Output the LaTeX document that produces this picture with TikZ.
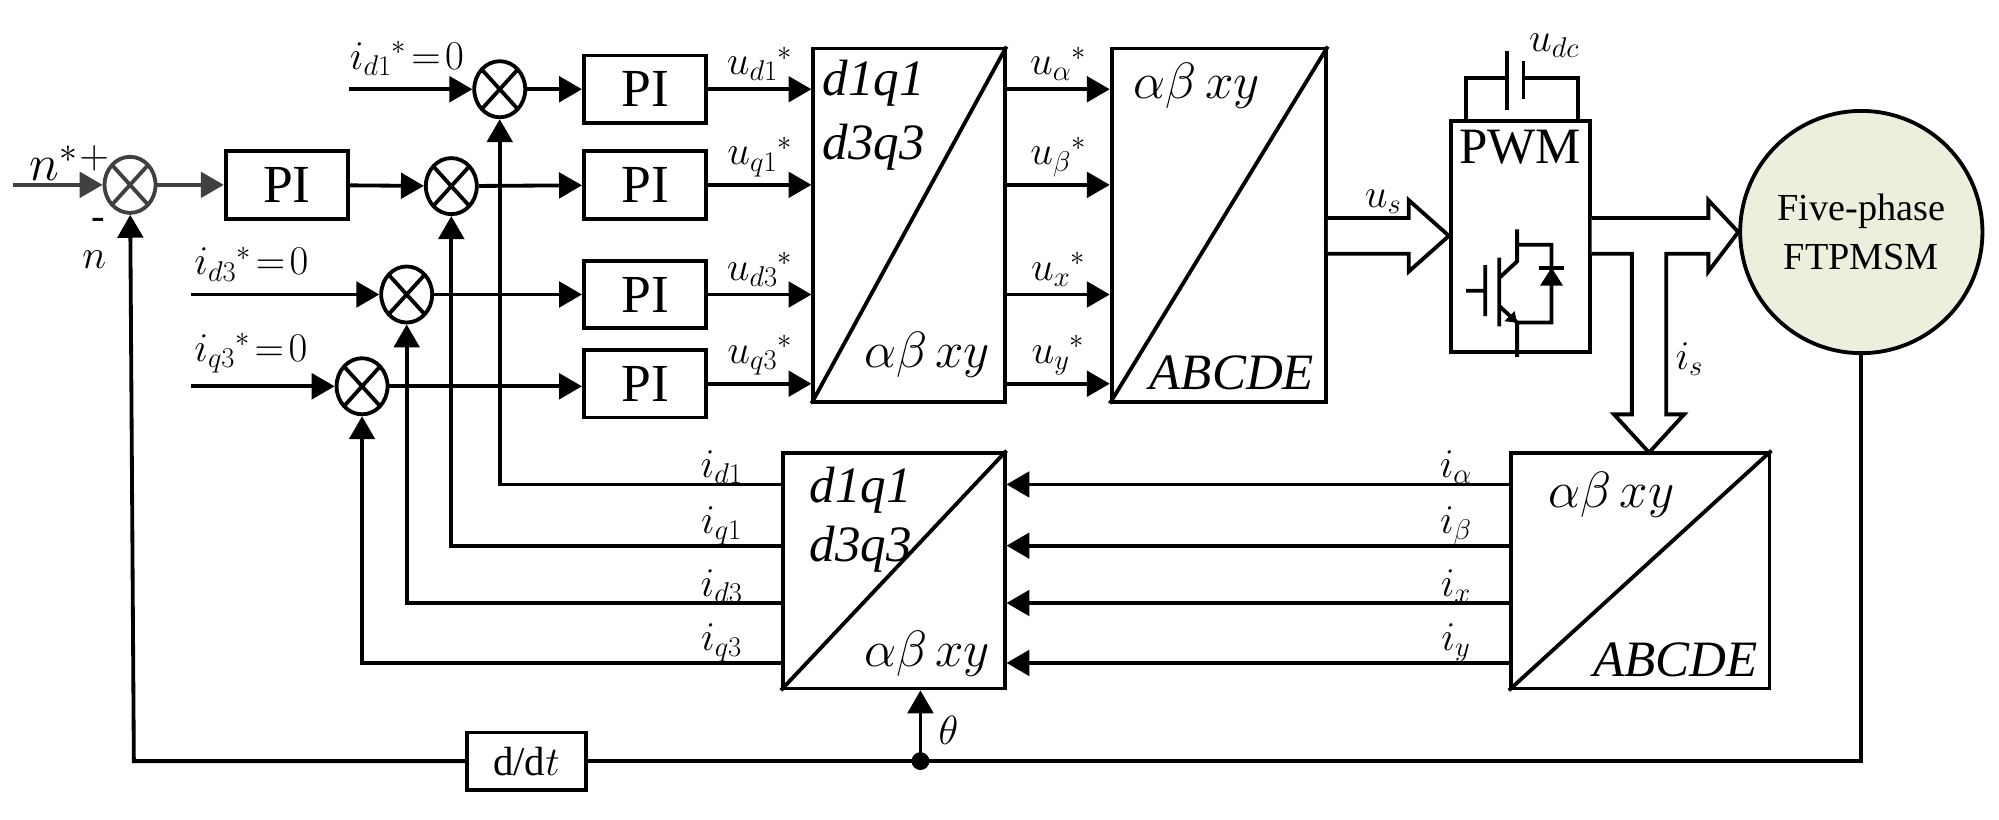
\RequirePackage{fix-cm}
\documentclass[tikz,border=0pt]{standalone}
\usepackage{fontspec}
\setmainfont{Liberation Serif}
\usetikzlibrary{arrows.meta,shapes.geometric,calc}
\begin{document}
\begin{tikzpicture}[x=1pt,y=-1pt,line width=3pt,
  arr/.style={-{Triangle[length=18pt,width=20pt]}},
  sum/.style={draw,ellipse,minimum width=40pt,minimum height=44pt,inner sep=0pt,
    path picture={\draw (path picture bounding box.north west)--(path picture bounding box.south east)
      (path picture bounding box.north east)--(path picture bounding box.south west);}},
  pi/.style={draw,minimum width=96pt,minimum height=53pt,font=\fontsize{42}{44}\selectfont},
  lbl/.style={font=\fontsize{32}{36}\selectfont,inner sep=1pt},
  tr/.style={draw},
  big/.style={font=\fontsize{40}{44}\selectfont\itshape}]
\useasboundingbox (0,0) rectangle (1568,643);
% summers
\node[sum,draw=black!75] (s0) at (102,145) {};
\node[sum] (sd1) at (392,70) {};
\node[sum] (sq1) at (354,146) {};
\node[sum] (sd3) at (319,231) {};
\node[sum] (sq3) at (284,303) {};
% PI
\node[pi] (p0) at (225,145) {PI};
\node[pi] (pd1) at (506,70) {PI};
\node[pi] (pq1) at (506,145) {PI};
\node[pi] (pd3) at (506,231) {PI};
\node[pi] (pq3) at (506,301) {PI};
% transform boxes
\node[tr,minimum width=150pt,minimum height=277pt] (t1) at (713,176.5) {};
\draw (t1.south west)--(t1.north east);
\node[big,anchor=north west] at ($(t1.north west)+(4,6)$) {d1q1};
\node[big,anchor=north west] at ($(t1.north west)+(4,56)$) {d3q3};
\node[big,anchor=south east] at ($(t1.south east)+(-8,-16)$) {$\alpha\beta\,xy$};
\node[tr,minimum width=168pt,minimum height=277pt] (t2) at (956,176.5) {};
\draw (t2.south west)--(t2.north east);
\node[big,anchor=north west] at ($(t2.north west)+(14,8)$) {$\alpha\beta\,xy$};
\node[big,anchor=south east] at ($(t2.south east)+(-6,-6)$) {ABCDE};
\node[tr,minimum width=203pt,minimum height=185pt] (t3) at (1286.5,447.5) {};
\draw (t3.south west)--(t3.north east);
\node[big,anchor=north west] at ($(t3.north west)+(26,12)$) {$\alpha\beta\,xy$};
\node[big,anchor=south east] at ($(t3.south east)+(-6,-6)$) {ABCDE};
\node[tr,minimum width=174pt,minimum height=185pt] (t4) at (701,447.5) {};
\draw (t4.south west)--(t4.north east);
\node[big,anchor=north west] at ($(t4.north west)+(18,8)$) {d1q1};
\node[big,anchor=north west] at ($(t4.north west)+(18,54)$) {d3q3};
\node[big,anchor=south east] at ($(t4.south east)+(-8,-6)$) {$\alpha\beta\,xy$};
% PWM
\node[draw,minimum width=109pt,minimum height=181pt] (pwm) at (1192.5,185.5) {};
\node[font=\fontsize{40}{44}\selectfont,anchor=north] at ($(pwm.north)+(0,4)$) {PWM};
\draw (1150,95)--(1150,61)--(1182,61) (1195,61)--(1238,61)--(1238,95);
\draw (1182,40)--(1182,86) (1195,48)--(1195,78);
\node[lbl,anchor=west] at (1197,36) {$u_{dc}$};
% IGBT
\draw (1150,228)--(1165,228) (1165,208)--(1165,248) (1176,202)--(1176,256)
  (1176,218)--(1190,205)--(1190,180) (1176,240)--(1190,253)--(1190,280)
  (1190,192)--(1217,192)--(1217,253)--(1190,253);
\fill (1190,253)--(1180,252)--(1188,244)--cycle;
\fill (1208,224)--(1226,224)--(1217,210)--cycle;
\draw (1207,210)--(1227,210);
% motor
\node[draw,circle,fill={rgb,255:red,234;green,240;blue,220},minimum size=190pt,
  align=center,font=\fontsize{30}{38}\selectfont] (m) at (1460,182) {Five-phase\\FTPMSM};
% hollow arrows
\draw[fill=white,line join=miter] (t2.east |- 0,171)--(1105,171)--(1105,157)--(pwm.west |- 0,185)--(1105,213)--(1105,199)--(t2.east |- 0,199);
\draw[fill=white,line join=miter] (pwm.east |- 0,171)--(1340,171)--(1340,157)--(m.west)--(1340,213)--(1340,199)--(1307,199)
  --(1307,325)--(1321,325)--(1293.5,355)--(1266,325)--(1280,325)--(1280,199)--(pwm.east |- 0,199);
\node[lbl] at (1085,158) {$u_s$};
\node[lbl] at (1325,282) {$i_s$};
% n loop
\draw[black!75,arr] (10,145)--(s0);
\draw[black!75,arr] (s0)--(p0);
\node[lbl,font=\fontsize{40}{44}\selectfont] at (42,128) {$n^{*}$};
\node[lbl] at (74,124) {$+$};
\node[lbl] at (77,176) {-};
\node[lbl] at (74,204) {$n$};
\draw[arr] (p0)--(sq1);
% inputs
\draw[arr] (274,70)--(sd1);
\node[lbl,anchor=south west] at (272,62) {$i_{d1}{}^{*}\!=\!0$};
\draw[arr] (150,231)--(sd3);
\node[lbl,anchor=south west] at (150,223) {$i_{d3}{}^{*}\!=\!0$};
\draw[arr] (150,303)--(sq3);
\node[lbl,anchor=south west] at (150,295) {$i_{q3}{}^{*}\!=\!0$};
\draw[arr] (sd1)--(pd1);
\draw[arr] (sq1)--(pq1);
\draw[arr] (sd3)--(sd3 -| pd3.west);
\draw[arr] (sq3)--(sq3 -| pq3.west);
% PI -> t1
\foreach \p/\l in {pd1/u_{d1},pq1/u_{q1},pd3/u_{d3},pq3/u_{q3}}{
  \draw[arr] (\p.east)--(\p -| t1.west);
  \node[lbl,anchor=south] at ($(\p.east)!0.5!(\p -| t1.west)+(0,-4)$) {$\l{}^{*}$};}
\foreach \y/\l in {70/u_{\alpha},145/u_{\beta},231/u_{x},301/u_{y}}{
  \draw[arr] (t1.east |- 0,\y)--(t2.west |- 0,\y);
  \node[lbl,anchor=south] at ($(t1.east |- 0,\y)!0.5!(t2.west |- 0,\y)+(0,-4)$) {$\l{}^{*}$};}
% t3 -> t4
\foreach \y/\l in {380/i_{\alpha},428/i_{\beta},473/i_{x},520/i_{y}}{
  \draw[arr] (t3.west |- 0,\y)--(t4.east |- 0,\y);
  \node[lbl,anchor=south] at (1142,\y+2) {$\l$};}
% feedback
\draw[arr] (t4.west |- 0,380)--(392,380)--(sd1);
\draw[arr] (t4.west |- 0,428)--(354,428)--(sq1);
\draw[arr] (t4.west |- 0,473)--(319,473)--(sd3);
\draw[arr] (t4.west |- 0,520)--(284,520)--(sq3);
\foreach \y/\l in {380/i_{d1},428/i_{q1},473/i_{d3},520/i_{q3}}{
  \node[lbl,anchor=south] at (566,\y+2) {$\l$};}
% bottom
\node[draw,minimum width=93pt,minimum height=45pt,font=\fontsize{32}{36}\selectfont] (dd) at (413,597) {d/d$t$};
\coordinate (dot) at (722,597);
\draw (m.south)--(m.south |- dot)--(dot);
\draw (dot)--(dd.east);
\draw[arr,black] (dd.west)--(105,597)--(s0);
\fill (dot) circle (7pt);
\draw[arr] (dot)--(dot |- t4.south);
\node[lbl] at (744,573) {$\theta$};
\end{tikzpicture}
\end{document}
